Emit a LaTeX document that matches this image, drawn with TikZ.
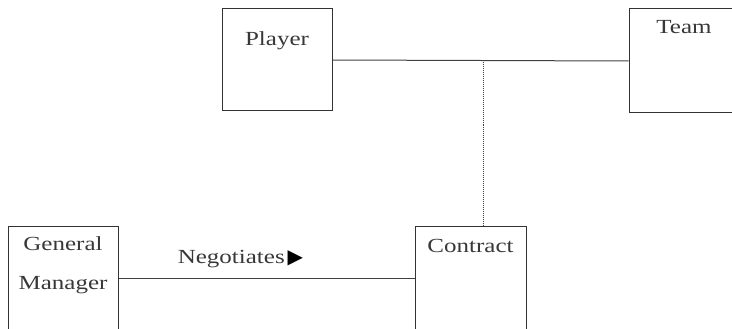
\documentclass[tikz,border=0pt]{standalone}
\usepackage{fontspec}
\setmainfont{Liberation Serif}[FakeStretch=1.25]
\newfontfamily\symfont{DejaVu Sans}
\begin{document}
\begin{tikzpicture}[x=1pt,y=-1pt,
  entity/.style={draw=black!80, line width=1pt, rectangle, inner sep=0pt},
  tag/.style={anchor=base, text=black!78, font=\fontsize{20}{20}\selectfont, inner sep=0pt},
  link/.style={draw=black!75, line width=1pt},
  assoc/.style={draw=black!75, line width=1pt, dash pattern=on 1pt off 1pt}]
  \useasboundingbox (0,0) rectangle (732,329);
  \clip (0,0) rectangle (732,329);

  % entity boxes (Team and Contract run past the edges)
  \node[entity, minimum width=110pt, minimum height=102pt,
        label={[tag, yshift=-37pt]north:Player}] (Player) at (277,60) {};
  \node[entity, minimum width=110pt, minimum height=104pt,
        label={[tag, yshift=-25pt]north:Team}] (Team) at (684,61) {};
  \node[entity, minimum width=111pt, minimum height=105pt,
        label={[tag, yshift=-27pt]north:Contract}] (Contract) at (470.5,278.5) {};
  \node[entity, minimum width=110pt, minimum height=105pt,
        label={[tag, yshift=-25pt]north:General},
        label={[tag, yshift=-64pt]north:Manager}] (GM) at (63,278.5) {};

  % Player -- Team association with the Contract class hanging off it
  \draw[link] (Player.east) -- (Team.west);
  \coordinate (tap) at (483,60.5);
  \draw[assoc] (tap) -- (tap |- Contract.north);

  % General Manager negotiates Contract
  \draw[link] (GM.east) -- (Contract.west)
    node[tag, pos=0.412, yshift=15.5pt] (neg) {Negotiates\kern3pt{\symfont\fontsize{20}{20}\selectfont\color{black}▶}};
\end{tikzpicture}
\end{document}
